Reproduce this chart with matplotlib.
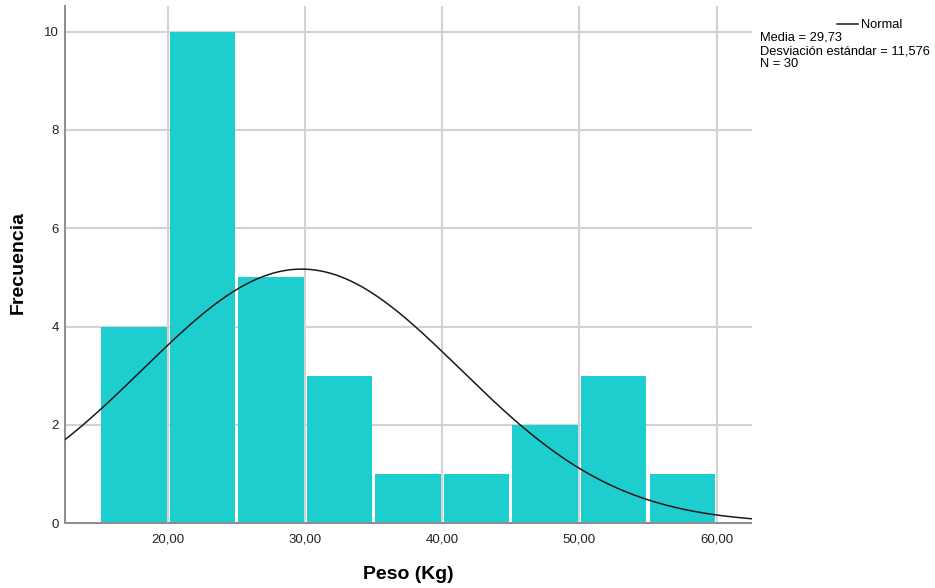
import numpy as np
import matplotlib
matplotlib.use("Agg")
import matplotlib.pyplot as plt

plt.rcParams['font.family'] = ['Liberation Sans', 'DejaVu Sans']

# Histogram of weights (bins of 5 kg)
bin_edges = [15, 20, 25, 30, 35, 40, 45, 50, 55, 60]
counts = [4, 10, 5, 3, 1, 1, 2, 3, 1]
mean_w = 29.73
sd_w = 11.576
n_obs = 30
x_ticks = [20, 30, 40, 50, 60]
x_tick_labels = ["20,00", "30,00", "40,00", "50,00", "60,00"]
y_ticks = [0, 2, 4, 6, 8, 10]

W, H = 935, 588
fig = plt.figure(figsize=(W / 100, H / 100), dpi=100)
ax_left, ax_right, ax_top, ax_bottom = 65, 751.5, 6, 523.3
ax = fig.add_axes([ax_left / W, 1 - ax_bottom / H,
                   (ax_right - ax_left) / W, (ax_bottom - ax_top) / H])

bar_color = "#1ecdcd"
lefts = np.array(bin_edges[:-1], dtype=float)
widths = np.diff(bin_edges).astype(float)
gap = 0.22
ax.bar(lefts + gap / 2, counts, width=widths - gap, align='edge',
       color=bar_color, edgecolor='none', zorder=2)

# Fitted normal curve scaled to counts
x_lo, x_hi = 12.47, 62.55
xs = np.linspace(x_lo, x_hi, 400)
bw = widths[0]
pdf = n_obs * bw / (sd_w * np.sqrt(2 * np.pi)) * np.exp(-0.5 * ((xs - mean_w) / sd_w) ** 2)
ax.plot(xs, pdf, color="#1a1a1a", linewidth=1.1, zorder=3)

ax.set_xlim(x_lo, x_hi)
ax.set_ylim(0, 10.52)
ax.set_xticks(x_ticks)
ax.set_xticklabels(x_tick_labels, fontsize=9.5)
ax.set_yticks(y_ticks)
ax.set_yticklabels([str(v) for v in y_ticks], fontsize=9.5)
ax.tick_params(length=0, colors="#222222")
ax.tick_params(axis='x', pad=7)
ax.tick_params(axis='y', pad=4.5)

ax.grid(True, color="#d3d3d3", linewidth=1.5, zorder=0)
ax.set_axisbelow(True)
for side in ("top", "right"):
    ax.spines[side].set_visible(False)
for side in ("left", "bottom"):
    ax.spines[side].set_color("#8c8c8c")
    ax.spines[side].set_linewidth(1.4)

# Axis titles
fig.text((ax_left + ax_right) / 2 / W, 1 - 579 / H, "Peso (Kg)", fontsize=14,
         fontweight='bold', ha='center', va='baseline')
fig.text(18 / W, 1 - 263 / H, "Frecuencia", fontsize=14, fontweight='bold',
         ha='center', va='center', rotation=90)

# Legend / statistics block at upper right
fig.add_artist(plt.Line2D([836.5 / W, 858 / W], [1 - 24 / H, 1 - 24 / H],
                          color="#1a1a1a", linewidth=1.1))
fig.text(861 / W, 1 - 28 / H, "Normal", fontsize=9.3, va='baseline', ha='left')
stats_lines = [f"Media = {mean_w:.2f}".replace('.', ','),
               f"Desviación estándar = {sd_w:.3f}".replace('.', ','),
               f"N = {n_obs}"]
for i, line in enumerate(stats_lines):
    fig.text(760 / W, 1 - (41 + 13 * i) / H, line, fontsize=9.3,
             va='baseline', ha='left')

fig.savefig("out.png", dpi=100)
